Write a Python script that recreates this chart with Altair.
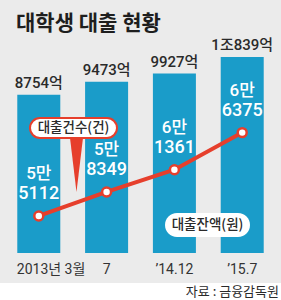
import altair as alt
import pandas as pd

periods = ["2013년 3월", "7", "’14.12", "’15.7"]
balance = [8754, 9473, 9927, 10839]
balance_labels = ["8754억", "9473억", "9927억", "1조839억"]
counts = [55112, 58349, 61361, 66375]

BLUE = "#1a9cc9"
RED = "#e63f2c"
GRAY = "#ebebeb"
DARK = "#2a2a2a"
NUM_FONT = "Roboto, Noto Sans CJK KR"
KR_FONT = "Noto Sans CJK KR"

df = pd.DataFrame({
    "period": periods,
    "balance": balance,
    "blabel": balance_labels,
    "count": counts,
    "c_top": [f"{c // 10000}만" for c in counts],
    "c_bot": [f"{c % 10000}" for c in counts],
})
one = pd.DataFrame({"a": [0]})

xenc = alt.X("period:N", sort=periods, title=None,
             scale=alt.Scale(paddingInner=0.366, paddingOuter=0.255),
             axis=alt.Axis(domain=False, ticks=False, grid=False, labelAngle=0, zindex=1,
                           labelFont=NUM_FONT, labelFontSize=14, labelColor="#333",
                           labelPadding=9,
                           labelAlign=alt.expr("datum.value == '2013년 3월' ? 'left' : 'center'"),
                           labelOffset=alt.expr("datum.value == '2013년 3월' ? -22 : 0")))
ybal = alt.Y("balance:Q", scale=alt.Scale(domain=[0, 14000]), axis=None)
ycnt = alt.Y("count:Q", scale=alt.Scale(domain=[50100, 84300]), axis=None)

bg = alt.Chart(one).mark_rect(color=GRAY).encode(
    x=alt.value(0), x2=alt.value(281), y=alt.value(0), y2=alt.value(283))

title = alt.Chart(one).mark_text(text="대학생 대출 현황", font=KR_FONT, fontSize=21,
                                 fontWeight="bold", color="#1e1e1e", align="left",
                                 baseline="middle").encode(x=alt.value(16), y=alt.value(24))

bars = alt.Chart(df).mark_bar(color=BLUE, size=43).encode(x=xenc, y=ybal)
btext = alt.Chart(df).mark_text(font=NUM_FONT, fontSize=15, color=DARK, fontWeight=500,
                                baseline="bottom", dy=-4).encode(x=xenc, y=ybal, text="blabel:N")

ctop = alt.Chart(df).mark_text(font=NUM_FONT, fontSize=17, color="white", fontWeight=500,
                               baseline="middle", dy=-42).encode(x=xenc, y=ycnt, text="c_top:N")
cbot = alt.Chart(df).mark_text(font=NUM_FONT, fontSize=18, color="white", fontWeight=500,
                               baseline="middle", dy=-22).encode(x=xenc, y=ycnt, text="c_bot:N")

line = alt.Chart(df).mark_line(color=RED, strokeWidth=4).encode(x=xenc, y=ycnt)
pts = alt.Chart(df).mark_point(filled=True, fill="white", stroke=RED, strokeWidth=2.5,
                               size=80, opacity=1).encode(x=xenc, y=ycnt)

tail = alt.Chart(one).mark_point(shape="M-0.24,-1L0.24,-1L0,1Z", size=2916, filled=True,
                                 color=RED, opacity=1).encode(x=alt.value(76.5), y=alt.value(165))
box1 = alt.Chart(one).mark_rect(fill="white", stroke=RED, strokeWidth=2, cornerRadius=10).encode(
    x=alt.value(30), x2=alt.value(117), y=alt.value(118), y2=alt.value(138))
box1t = alt.Chart(one).mark_text(text="대출건수(건)", font=KR_FONT, fontSize=13.5, color=DARK,
                                 fontWeight=500, baseline="middle").encode(
    x=alt.value(73.5), y=alt.value(128))
box2 = alt.Chart(one).mark_rect(fill="white", cornerRadius=12).encode(
    x=alt.value(165), x2=alt.value(250), y=alt.value(213), y2=alt.value(237))
box2t = alt.Chart(one).mark_text(text="대출잔액(원)", font=KR_FONT, fontSize=13.5, color=DARK,
                                 fontWeight=500, baseline="middle").encode(
    x=alt.value(207.5), y=alt.value(225))

source = alt.Chart(one).mark_text(text="자료 : 금융감독원", font=KR_FONT, fontSize=13, color=DARK,
                                  align="right", baseline="middle").encode(
    x=alt.value(279), y=alt.value(292))

chart = alt.layer(bg, title, bars, btext, line, pts, ctop, cbot, tail, box1, box1t, box2, box2t,
                  source).resolve_scale(y="independent").properties(
    width=281, height=253,
    autosize=alt.AutoSizeParams(type="none"),
    padding={"left": 0, "top": 0, "right": 0, "bottom": 47},
    background="white",
).configure_view(stroke=None)

chart.save("out.html", embed_options={"renderer": "svg", "actions": False})
